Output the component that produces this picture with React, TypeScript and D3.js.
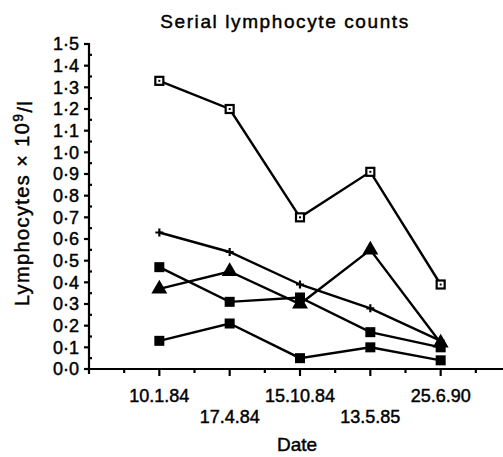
import { useEffect, useRef } from "react"
import * as d3 from "d3"

// dates of the five samples (x axis categories)
const dates = ["10.1.84", "17.4.84", "15.10.84", "13.5.85", "25.6.90"]

// lymphocyte counts, x 10^9/l, one array per patient
const openSquareSeries = [1.33, 1.2, 0.7, 0.91, 0.39]
const plusSeries = [0.63, 0.54, 0.39, 0.28, 0.13]
const filledSquareSeries = [0.47, 0.31, 0.33, 0.17, 0.1]
const triangleSeries = [0.37, 0.45, 0.3, 0.55, 0.12]
const lowSquareSeries = [0.13, 0.21, 0.05, 0.1, 0.04]

const yTickValues = [0, 0.1, 0.2, 0.3, 0.4, 0.5, 0.6, 0.7, 0.8, 0.9, 1.0, 1.1, 1.2, 1.3, 1.4, 1.5]
const yMinorValues = [0.05, 0.15, 0.25, 0.35, 0.45, 0.55, 0.65, 0.75, 0.85, 0.95, 1.05, 1.15, 1.25, 1.35, 1.45]

type Marker = "openSquare" | "filledSquare" | "triangle" | "plus"

const series: { values: number[]; marker: Marker }[] = [
  { values: openSquareSeries, marker: "openSquare" },
  { values: plusSeries, marker: "plus" },
  { values: filledSquareSeries, marker: "filledSquare" },
  { values: triangleSeries, marker: "triangle" },
  { values: lowSquareSeries, marker: "filledSquare" },
]

const W = 503
const H = 457
const FONT = "'Liberation Sans', Arial, Helvetica, sans-serif"

export default function App() {
  const svgRef = useRef<SVGSVGElement>(null)

  useEffect(() => {
    document.body.style.margin = "0"
    if (!svgRef.current) return
    const svg = d3.select(svgRef.current)
    svg.selectAll("*").remove()

    const x = d3.scaleLinear().domain([-1, 5]).range([89, 511])
    const y = d3.scaleLinear().domain([0, 1.5]).range([369, 44])

    // all text a bit heavier, like the scanned original
    const txt = (sel: d3.Selection<SVGTextElement, any, any, any>) =>
      sel.style("font-family", FONT).attr("stroke", "#000").attr("stroke-width", 0.45).attr("fill", "#000")

    // title
    svg
      .append("text")
      .attr("x", 285)
      .attr("y", 28)
      .attr("text-anchor", "middle")
      .call(txt)
      .style("font-size", "19px")
      .style("letter-spacing", "1.6px")
      .text("Serial lymphocyte counts")

    // y axis
    const yAxis = svg.append("g").attr("stroke", "#000").attr("stroke-width", 2.2)
    yAxis.append("line").attr("x1", x(-1)).attr("x2", x(-1)).attr("y1", y(1.5) - 1).attr("y2", y(0) + 5)
    yAxis
      .selectAll(".maj")
      .data(yTickValues)
      .enter()
      .append("line")
      .attr("x1", x(-1) - 5)
      .attr("x2", x(-1))
      .attr("y1", (d) => y(d))
      .attr("y2", (d) => y(d))
    yAxis
      .selectAll(".min")
      .data(yMinorValues)
      .enter()
      .append("line")
      .attr("x1", x(-1))
      .attr("x2", x(-1) + 3)
      .attr("y1", (d) => y(d))
      .attr("y2", (d) => y(d))
    svg
      .append("g")
      .selectAll("text")
      .data(yTickValues)
      .enter()
      .append("text")
      .attr("x", x(-1) - 10)
      .attr("y", (d) => y(d))
      .attr("dy", "0.36em")
      .attr("text-anchor", "end")
      .call(txt)
      .style("font-size", "18px")
      .text((d) => d.toFixed(1).replace(".", "\u00b7"))

    // y label
    const yl = svg
      .append("text")
      .attr("transform", `translate(29, 203) rotate(-90)`)
      .attr("text-anchor", "middle")
      .call(txt)
      .style("font-size", "20px")
      .style("letter-spacing", "1.4px")
    yl.append("tspan").text("Lymphocytes \u00d7 10")
    yl.append("tspan").attr("dy", "-0.45em").style("font-size", "14px").text("9")
    yl.append("tspan").attr("dy", "0.45em").text("/l")

    // x axis
    const xAxis = svg.append("g").attr("stroke", "#000").attr("stroke-width", 2.2)
    xAxis.append("line").attr("x1", x(-1) - 3).attr("x2", W).attr("y1", y(0)).attr("y2", y(0))
    xAxis
      .selectAll(".maj")
      .data(dates)
      .enter()
      .append("line")
      .attr("x1", (_, i) => x(i))
      .attr("x2", (_, i) => x(i))
      .attr("y1", y(0))
      .attr("y2", y(0) + 7)
    xAxis
      .selectAll(".min")
      .data([-0.5, 0.5, 1.5, 2.5, 3.5, 4.5])
      .enter()
      .append("line")
      .attr("x1", (d) => x(d))
      .attr("x2", (d) => x(d))
      .attr("y1", y(0))
      .attr("y2", y(0) + 4)
    svg
      .append("g")
      .selectAll("text")
      .data(dates)
      .enter()
      .append("text")
      .attr("x", (_, i) => x(i))
      .attr("y", (_, i) => (i % 2 === 0 ? 402 : 423))
      .attr("text-anchor", "middle")
      .call(txt)
      .style("font-size", "18px")
      .text((d) => d)

    svg
      .append("text")
      .attr("x", 297)
      .attr("y", 451)
      .attr("text-anchor", "middle")
      .call(txt)
      .style("font-size", "19px")
      .text("Date")

    // lines + markers
    const line = d3
      .line<number>()
      .x((_, i) => x(i))
      .y((d) => y(d))

    series.forEach((s) => {
      const g = svg.append("g")
      g.append("path")
        .attr("d", line(s.values) || "")
        .attr("fill", "none")
        .attr("stroke", "#000")
        .attr("stroke-width", 2.4)

      const pts = g
        .selectAll(".pt")
        .data(s.values)
        .enter()
        .append("g")
        .attr("transform", (d, i) => `translate(${x(i)},${y(d)})`)

      if (s.marker === "openSquare") {
        pts.append("rect").attr("x", -4).attr("y", -4).attr("width", 8).attr("height", 8)
          .attr("fill", "#fff").attr("stroke", "#000").attr("stroke-width", 2.2)
        pts.append("rect").attr("x", -1).attr("y", -1).attr("width", 2).attr("height", 2).attr("fill", "#000")
      } else if (s.marker === "filledSquare") {
        pts.append("rect").attr("x", -5).attr("y", -5).attr("width", 10).attr("height", 10).attr("fill", "#000")
      } else if (s.marker === "triangle") {
        pts.append("path").attr("d", d3.symbol(d3.symbolTriangle, 110)() || "").attr("fill", "#000")
      } else {
        pts.append("path").attr("d", "M-4,0H4M0,-4V4").attr("stroke", "#000").attr("stroke-width", 2.2)
      }
    })
  }, [])

  return <svg ref={svgRef} width={W} height={H} style={{ display: "block", background: "#fff" }} />
}
